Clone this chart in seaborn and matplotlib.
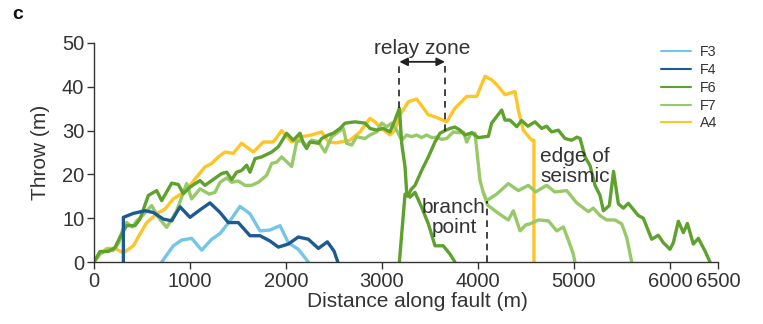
import numpy as np
import pandas as pd
import matplotlib
matplotlib.use("Agg")
import matplotlib.pyplot as plt
from matplotlib.lines import Line2D
import seaborn as sns

# ---------------- data (distance m, throw m) ----------------
F3 = [(705, 0), (826, 3.7), (913, 5.0), (1017, 5.4), (1122, 2.7), (1226, 5.2), (1313, 6.5),
      (1417, 9.4), (1521, 12.7), (1625, 11.0), (1729, 7.1), (1833, 7.3), (1938, 8.3),
      (2024, 4.4), (2128, 2.9), (2233, 0)]

F4 = [(306, 0), (306, 10.2), (410, 11.1), (531, 11.7), (618, 11.3), (722, 9.8), (809, 9.4),
      (896, 12.6), (1000, 10.2), (1104, 11.9), (1208, 13.5), (1313, 11.3), (1399, 9.0),
      (1503, 9.0), (1625, 6.0), (1729, 6.0), (1833, 4.8), (1920, 3.4), (2024, 4.1),
      (2128, 5.7), (2233, 5.2), (2337, 3.1), (2431, 4.6), (2500, 2.5), (2540, 0)]

F6_a = [(0, 0), (62, 2.4), (149, 2.4), (219, 3.3), (271, 5.7), (340, 8.3), (427, 8.3),
        (479, 9.8), (566, 15.2), (653, 16.3), (705, 14.0), (809, 18.0), (878, 17.7),
        (931, 15.6), (1000, 17.1), (1104, 18.6), (1156, 17.5), (1278, 19.4), (1330, 20.2),
        (1382, 20.5), (1434, 18.8), (1486, 20.5), (1538, 20.9), (1590, 22.1), (1625, 20.5),
        (1677, 23.6), (1747, 24.0), (1851, 25.1), (1920, 26.3), (2007, 29.4), (2076, 27.8),
        (2146, 29.4), (2181, 27.1), (2215, 25.9), (2250, 27.4), (2337, 27.1), (2372, 28.2),
        (2441, 29.0), (2493, 29.4), (2562, 30.5), (2615, 31.7), (2719, 32.0), (2823, 31.7),
        (2875, 30.5), (2944, 30.1), (3014, 30.5), (3083, 29.7), (3135, 32.4), (3181, 35.1),
        (3205, 27.1), (3240, 21.7), (3257, 15.9), (3292, 14.8), (3344, 15.9), (3413, 12.5),
        (3483, 8.7), (3552, 3.7), (3638, 3.7), (3708, 1.8), (3760, 0)]

F6_b = [(3181, 0), (3240, 15.5), (3270, 15.0), (3300, 16.5), (3344, 17.5), (3413, 20.9),
        (3483, 24.0), (3552, 27.4), (3604, 29.4), (3656, 30.0), (3708, 30.5), (3760, 30.8),
        (3813, 30.1), (3865, 29.0), (3934, 29.5), (4003, 28.4), (4108, 28.7), (4142, 31.7),
        (4247, 34.7), (4281, 32.4), (4333, 32.4), (4403, 30.9), (4455, 32.3), (4520, 31.0),
        (4594, 32.0), (4663, 30.5), (4715, 31.0), (4767, 29.7), (4837, 30.1), (4906, 28.2),
        (4976, 27.8), (5030, 28.5), (5063, 28.2), (5115, 24.0), (5167, 22.0), (5219, 17.5),
        (5271, 15.2), (5306, 11.7), (5368, 12.9), (5412, 20.7), (5462, 13.3), (5514, 12.3),
        (5566, 13.4), (5670, 10.6), (5722, 10.0), (5809, 5.2), (5878, 6.1), (5931, 4.4),
        (6000, 2.9), (6035, 4.4), (6087, 9.3), (6139, 6.7), (6181, 8.8), (6243, 4.1),
        (6295, 5.4), (6365, 2.5), (6417, 0)]

F7_a = [(0, 0), (62, 1.8), (150, 3.0), (200, 2.6), (260, 4.5), (300, 7.5), (340, 9.0),
        (400, 8.0), (450, 9.5), (500, 10.5), (601, 12.9), (670, 10.2), (757, 7.9),
        (861, 11.7), (965, 17.9), (1017, 14.4), (1104, 16.7), (1200, 15.5), (1260, 15.9),
        (1313, 18.2), (1382, 19.2), (1434, 18.2), (1503, 18.5), (1573, 17.5), (1642, 17.5),
        (1712, 18.2), (1799, 19.8), (1851, 22.5), (1903, 22.8), (1955, 24.0), (2059, 21.8),
        (2111, 27.4), (2163, 27.8), (2215, 26.5), (2267, 27.8), (2337, 27.5), (2406, 25.1),
        (2476, 28.6), (2545, 29.7), (2597, 30.5), (2632, 27.1), (2684, 26.7), (2736, 28.6),
        (2823, 28.2), (2875, 29.0), (2944, 29.7), (2996, 31.7), (3049, 30.9), (3101, 31.7),
        (3153, 30.1), (3205, 27.8), (3257, 29.0), (3309, 28.6), (3361, 29.0), (3413, 28.4),
        (3465, 29.0), (3517, 28.4), (3570, 28.5), (3622, 28.0), (3674, 28.2), (3743, 29.7),
        (3800, 29.5), (3850, 29.6), (3882, 27.4), (3930, 29.5), (3969, 29.4), (4021, 18.6),
        (4055, 15.9), (4090, 14.0), (4194, 15.5), (4316, 17.9), (4420, 16.3), (4524, 17.5),
        (4600, 16.0), (4715, 17.5), (4800, 16.0), (4924, 16.3), (5028, 13.5), (5149, 11.5),
        (5201, 12.3), (5271, 10.6), (5340, 9.6), (5427, 9.6), (5497, 8.7), (5549, 5.6),
        (5601, 0)]

F7_b = [(4055, 15.9), (4100, 13.0), (4177, 11.7), (4247, 10.6), (4316, 9.6), (4368, 11.7),
        (4438, 7.1), (4500, 8.5), (4542, 8.7), (4629, 9.6), (4733, 9.4), (4820, 7.1),
        (4889, 8.0), (4941, 5.0), (4990, 2.0), (5010, 0)]

A4 = [(0, 0), (62, 1.8), (132, 3.1), (219, 3.1), (306, 2.1), (410, 3.7), (479, 6.4),
      (549, 9.0), (653, 11.0), (740, 12.1), (826, 14.4), (913, 15.6), (1000, 17.5),
      (1069, 19.4), (1156, 21.7), (1226, 22.5), (1295, 24.0), (1365, 25.1), (1451, 24.8),
      (1538, 27.1), (1660, 25.1), (1764, 27.4), (1868, 27.4), (1955, 30.0), (2059, 27.4),
      (2163, 28.6), (2267, 29.0), (2372, 29.7), (2441, 27.4), (2528, 27.2), (2562, 27.4),
      (2667, 27.8), (2771, 29.7), (2875, 32.8), (2927, 32.0), (2996, 30.5), (3083, 29.0),
      (3135, 30.1), (3188, 33.6), (3274, 36.6), (3361, 37.2), (3483, 33.6), (3570, 33.0),
      (3674, 32.0), (3760, 35.1), (3882, 37.8), (3986, 37.8), (4073, 42.4), (4142, 41.6),
      (4194, 40.5), (4281, 38.2), (4385, 38.9), (4420, 34.7), (4472, 30.1), (4559, 27.8),
      (4583, 27.8), (4583, 0)]

series_names = ["F3", "F4", "F6", "F7", "A4"]
series_colors = ["#74c6e6", "#1d5a92", "#5ea12d", "#98c968", "#fdc526"]
x_ticks = [0, 1000, 2000, 3000, 4000, 5000, 6000, 6500]
y_ticks = [0, 10, 20, 30, 40, 50]

segments = [("A4", A4), ("F7", F7_a), ("F7", F7_b), ("F6", F6_a), ("F6", F6_b),
            ("F3", F3), ("F4", F4)]

# ---------------- style ----------------
sns.set_style("ticks")
plt.rcParams["font.family"] = ["Liberation Sans", "DejaVu Sans"]
TXT = "#333333"
FS = 15

fig = plt.figure(figsize=(7.63, 3.24), dpi=100)
ax = fig.add_axes([94 / 763, 62 / 324, 624 / 763, 219 / 324])

palette = dict(zip(series_names, series_colors))
for i, (name, pts) in enumerate(segments):
    df = pd.DataFrame(pts, columns=["x", "y"])
    sns.lineplot(data=df, x="x", y="y", ax=ax, color=palette[name], lw=2.4,
                 sort=False, estimator=None, legend=False)

ax.set_xlim(0, 6500)
ax.set_ylim(0, 50)
ax.set_xticks(x_ticks)
ax.set_yticks(y_ticks)
ax.tick_params(labelsize=14.5, colors=TXT, length=5, width=1.0, pad=2)
for s in ["top", "right"]:
    ax.spines[s].set_visible(False)
for s in ["left", "bottom"]:
    ax.spines[s].set_color(TXT)
    ax.spines[s].set_linewidth(1.0)
ax.set_xlabel("Distance along fault (m)", fontsize=FS, color=TXT)
ax.set_ylabel("Throw (m)", fontsize=FS, color=TXT)
ax.xaxis.set_label_coords(0.518, -0.137)
ax.yaxis.set_label_coords(-0.071, 0.5)

# annotations
dash = dict(color="#222222", lw=1.2, ls=(0, (4, 3)))
ax.plot([3181, 3181], [35.1, 45.7], **dash)
ax.plot([3656, 3656], [30.0, 45.7], **dash)
ax.plot([4090, 4090], [0, 14.0], **dash)
ax.annotate("", xy=(3181, 45.7), xytext=(3656, 45.7),
            arrowprops=dict(arrowstyle="<|-|>", color="#222222", lw=1.3,
                            shrinkA=0, shrinkB=0, mutation_scale=12))
ax.text(3418, 48.8, "relay zone", ha="center", va="center", fontsize=FS, color=TXT,
        clip_on=False)
ax.text(3750, 10.2, "branch\npoint", ha="center", va="center", fontsize=FS, color=TXT,
        linespacing=1.05)
ax.text(4646, 21.8, "edge of\nseismic", ha="left", va="center", fontsize=FS, color=TXT,
        linespacing=1.05)

fig.text(0.016, 0.955, "c", fontsize=14, fontweight="bold", color="#111111",
         ha="left", va="center")

handles = [Line2D([0], [0], color=c, lw=1.5) for c in series_colors]
leg = fig.legend(handles, series_names, loc="upper left",
                 bbox_to_anchor=(660.5 / 763, 1 - 45 / 324), frameon=False,
                 fontsize=10.3, handlelength=2.1, handletextpad=0.65,
                 labelspacing=0.27, borderpad=0, borderaxespad=0)
for t in leg.get_texts():
    t.set_color(TXT)

fig.savefig("out.png", dpi=100)
